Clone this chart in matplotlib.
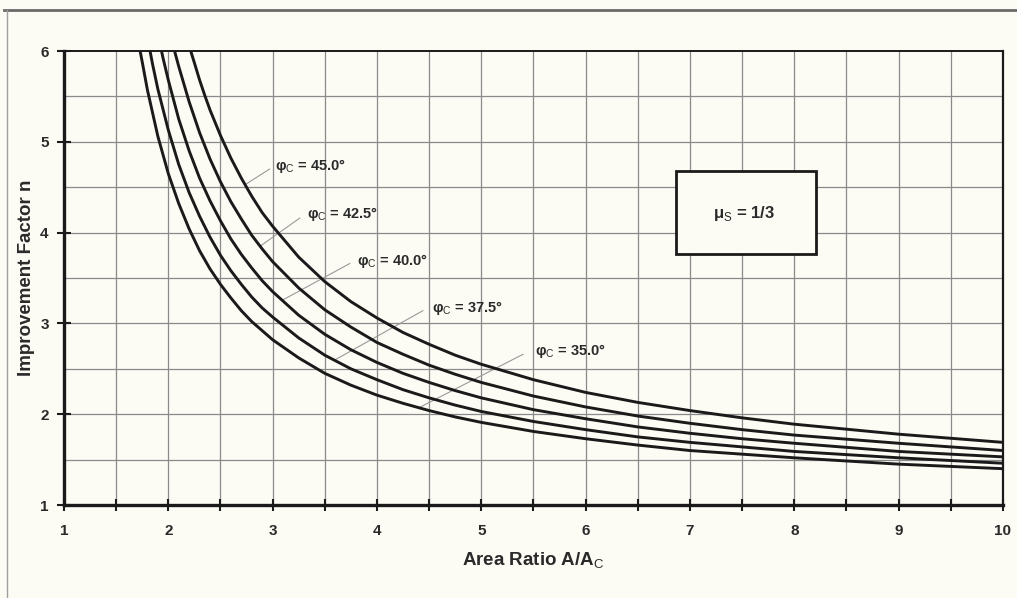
import matplotlib.pyplot as plt
from matplotlib.lines import Line2D
from matplotlib.patches import Rectangle

plt.rcParams['font.family'] = ['Liberation Sans', 'DejaVu Sans']
plt.rcParams['mathtext.fontset'] = 'custom'
plt.rcParams['mathtext.rm'] = 'Liberation Sans'
plt.rcParams['mathtext.bf'] = 'Liberation Sans:bold'

# curves: area ratio A/Ac -> improvement factor n
ratio_35 = [1.73, 1.75, 1.8, 1.9, 2.0, 2.1, 2.2, 2.3, 2.4, 2.5, 2.6, 2.7, 2.8, 2.9, 3.0, 3.25, 3.5, 3.75,
            4.0, 4.25, 4.5, 4.75, 5, 5.5, 6, 6.5, 7, 7.5, 8, 9, 10]
n_35 = [6.0, 5.88, 5.57, 5.06, 4.65, 4.32, 4.04, 3.80, 3.60, 3.43, 3.28, 3.14, 3.02, 2.92, 2.82, 2.62, 2.45, 2.32,
        2.21, 2.12, 2.04, 1.97, 1.91, 1.81, 1.73, 1.66, 1.60, 1.56, 1.52, 1.45, 1.40]

ratio_375 = [1.825, 1.85, 1.9, 2.0, 2.1, 2.2, 2.3, 2.4, 2.5, 2.6, 2.7, 2.8, 2.9, 3.0, 3.25, 3.5, 3.75,
             4.0, 4.25, 4.5, 4.75, 5, 5.5, 6, 6.5, 7, 7.5, 8, 9, 10]
n_375 = [6.0, 5.85, 5.58, 5.13, 4.75, 4.44, 4.18, 3.95, 3.75, 3.58, 3.43, 3.29, 3.17, 3.07, 2.84, 2.65, 2.50,
         2.38, 2.27, 2.18, 2.10, 2.03, 1.92, 1.83, 1.75, 1.69, 1.64, 1.59, 1.52, 1.46]

ratio_40 = [1.935, 1.95, 2.0, 2.1, 2.2, 2.3, 2.4, 2.5, 2.6, 2.7, 2.8, 2.9, 3.0, 3.25, 3.5, 3.75,
            4.0, 4.25, 4.5, 4.75, 5, 5.5, 6, 6.5, 7, 7.5, 8, 9, 10]
n_40 = [6.0, 5.92, 5.68, 5.25, 4.90, 4.60, 4.35, 4.13, 3.93, 3.76, 3.61, 3.47, 3.35, 3.09, 2.88, 2.71,
        2.57, 2.45, 2.35, 2.26, 2.18, 2.05, 1.95, 1.86, 1.79, 1.73, 1.68, 1.59, 1.53]

ratio_425 = [2.06, 2.1, 2.2, 2.3, 2.4, 2.5, 2.6, 2.7, 2.8, 2.9, 3.0, 3.25, 3.5, 3.75,
             4.0, 4.25, 4.5, 4.75, 5, 5.5, 6, 6.5, 7, 7.5, 8, 9, 10]
n_425 = [6.0, 5.83, 5.44, 5.10, 4.81, 4.56, 4.34, 4.15, 3.97, 3.82, 3.68, 3.39, 3.15, 2.96,
         2.79, 2.66, 2.54, 2.44, 2.35, 2.20, 2.08, 1.98, 1.90, 1.83, 1.77, 1.68, 1.60]

ratio_45 = [2.215, 2.25, 2.3, 2.35, 2.4, 2.5, 2.6, 2.7, 2.8, 2.9, 3.0, 3.25, 3.5, 3.75,
            4.0, 4.25, 4.5, 4.75, 5, 5.5, 6, 6.5, 7, 7.5, 8, 9, 10]
n_45 = [6.0, 5.87, 5.68, 5.51, 5.35, 5.07, 4.82, 4.60, 4.40, 4.22, 4.07, 3.73, 3.46, 3.24,
        3.06, 2.90, 2.77, 2.65, 2.55, 2.38, 2.24, 2.13, 2.04, 1.96, 1.89, 1.78, 1.69]

phi_labels = ['35.0', '37.5', '40.0', '42.5', '45.0']
curves = [(ratio_35, n_35), (ratio_375, n_375), (ratio_40, n_40), (ratio_425, n_425), (ratio_45, n_45)]

# label text anchor and leader line (from curve to text)
label_pos = [(5.51, 2.70), (4.53, 3.17), (3.81, 3.69), (3.33, 4.20), (3.02, 4.73)]
leader_from = [(4.40, 2.07), (3.60, 2.60), (3.10, 3.26), (2.88, 3.85), (2.74, 4.53)]
leader_to = [(5.40, 2.66), (4.44, 3.14), (3.74, 3.66), (3.26, 4.16), (2.97, 4.70)]

x_ticks = [1, 1.5, 2, 2.5, 3, 3.5, 4, 4.5, 5, 5.5, 6, 6.5, 7, 7.5, 8, 8.5, 9, 9.5, 10]
x_ticklabels = ['1', '', '2', '', '3', '', '4', '', '5', '', '6', '', '7', '', '8', '', '9', '', '10']
y_ticks = [1, 2, 3, 4, 5, 6]

paper = '#fcfbf4'
ink = '#1a1a1a'
txt = '#2a2a2a'

fig = plt.figure(figsize=(10.17, 5.98), dpi=100, facecolor=paper)
ax = fig.add_axes([0.0629, 0.1555, 0.9233, 0.7592])
ax.set_facecolor(paper)

# grid every 0.5
for gx in x_ticks[1:-1]:
    ax.axvline(gx, color='#8a8a8a', lw=0.9, zorder=1)
for gy in [1.5, 2, 2.5, 3, 3.5, 4, 4.5, 5, 5.5]:
    ax.axhline(gy, color='#8a8a8a', lw=0.9, zorder=1)

for (xs, ys) in curves:
    ax.plot(xs, ys, color=ink, lw=2.1, zorder=3, solid_joinstyle='round')

for lab, (tx, ty), (x0, y0), (x1, y1) in zip(phi_labels, label_pos, leader_from, leader_to):
    ax.plot([x0, x1], [y0, y1], color='#9a9a9a', lw=0.8, zorder=2)
    ax.text(tx, ty, r'φ$_\mathrm{C}$' + ' = ' + lab + '°', fontsize=10.5, fontweight='bold',
            color=txt, ha='left', va='center', zorder=4)

ax.add_patch(Rectangle((6.87, 3.76), 1.34, 0.92, fill=True, facecolor=paper,
                       edgecolor=ink, lw=2.0, zorder=4))
ax.text(7.52, 4.21, r'μ$_\mathrm{S}$' + ' = 1/3', fontsize=12, fontweight='bold',
        color=txt, ha='center', va='center', zorder=5)

ax.set_xlim(1, 10)
ax.set_ylim(1, 6)
ax.set_xticks(x_ticks)
ax.set_xticklabels(x_ticklabels)
ax.set_yticks(y_ticks)
ax.tick_params(axis='x', direction='inout', length=9, width=1.5, color=ink, pad=9,
               labelsize=11)
ax.tick_params(axis='y', direction='inout', length=10, width=1.5, color=ink, pad=6,
               labelsize=11)
for lbl in ax.get_xticklabels() + ax.get_yticklabels():
    lbl.set_fontweight('bold')
    lbl.set_color(txt)

ax.spines['left'].set_linewidth(2.4)
ax.spines['bottom'].set_linewidth(2.4)
ax.spines['top'].set_linewidth(1.4)
ax.spines['right'].set_linewidth(1.6)
for sp in ax.spines.values():
    sp.set_color(ink)

ax.set_xlabel(r'Area Ratio A/A$_\mathrm{C}$', fontsize=13.5, fontweight='bold', color=txt, labelpad=9)
ax.set_ylabel('Improvement Factor n', fontsize=13.5, fontweight='bold', color=txt, labelpad=4)

# scanned page border
fig.add_artist(Line2D([0.004, 1.0], [0.983, 0.983], color='#6a6a6a', lw=2.0))
fig.add_artist(Line2D([0.007, 0.007], [0.0, 0.983], color='#a0a0a0', lw=1.0))

fig.savefig('out.png', dpi=100, facecolor=paper)
